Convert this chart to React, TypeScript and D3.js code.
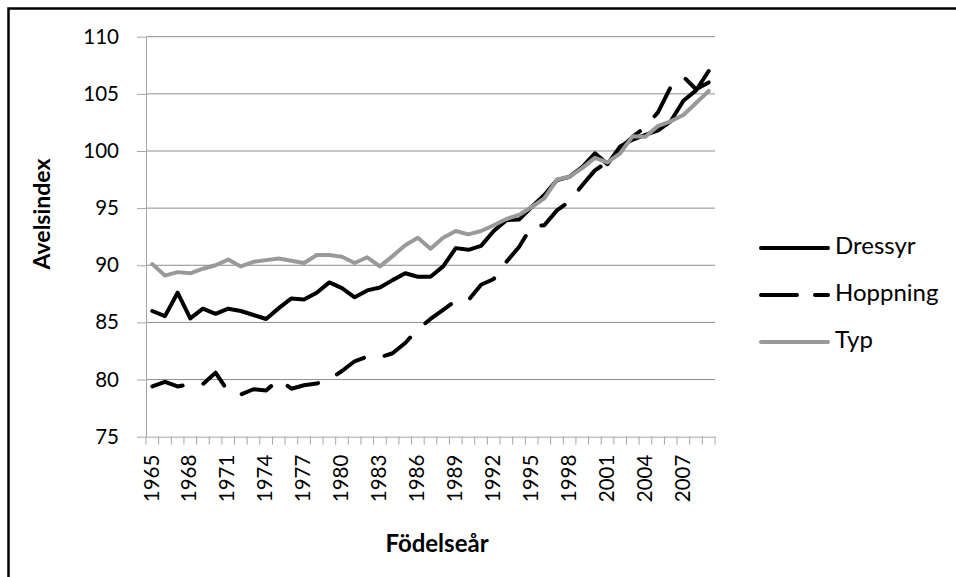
import React, { useEffect, useRef } from "react";
import * as d3 from "d3";

const years = d3.range(1965, 2010).map(String);
const tickYears = ["1965", "1968", "1971", "1974", "1977", "1980", "1983", "1986", "1989", "1992", "1995", "1998", "2001", "2004", "2007"];
const yTicks = [75, 80, 85, 90, 95, 100, 105, 110];

const dressyr = [
  86.0, 85.55, 87.6, 85.35, 86.2, 85.75, 86.2, 86.0, 85.65, 85.3,
  86.25, 87.1, 87.0, 87.6, 88.5, 88.0, 87.2, 87.8, 88.05, 88.7,
  89.3, 89.0, 89.0, 89.9, 91.5, 91.35, 91.7, 93.0, 93.95, 94.0,
  95.1, 96.15, 97.45, 97.75, 98.6, 99.8, 98.85, 100.4, 101.0, 101.4,
  101.8, 102.6, 104.4, 105.3, 107.0,
];
const hoppning = [
  79.4, 79.8, 79.4, 79.6, 79.6, 80.6, 78.95, 78.7, 79.15, 79.05,
  80.0, 79.2, 79.5, 79.65, 80.0, 80.75, 81.6, 82.0, 81.95, 82.3,
  83.2, 84.4, 85.3, 86.1, 86.9, 86.95, 88.3, 88.8, 90.3, 91.6,
  93.4, 93.5, 94.8, 95.6, 97.0, 98.3, 99.05, 100.25, 101.25, 102.1,
  103.4, 105.6, 106.5, 105.4, 106.0,
];
const typ = [
  90.1, 89.1, 89.4, 89.3, 89.7, 90.0, 90.5, 89.9, 90.3, 90.45,
  90.6, 90.4, 90.2, 90.9, 90.9, 90.75, 90.2, 90.7, 89.9, 90.8,
  91.75, 92.4, 91.45, 92.4, 93.0, 92.7, 93.0, 93.5, 94.05, 94.4,
  95.1, 95.85, 97.5, 97.75, 98.5, 99.4, 99.0, 99.8, 101.3, 101.25,
  102.2, 102.6, 103.15, 104.2, 105.25,
];

const series = [
  { name: "Dressyr", values: dressyr, color: "#000", dash: null },
  { name: "Hoppning", values: hoppning, color: "#000", dash: "32 21" },
  { name: "Typ", values: typ, color: "#999", dash: null },
];

const font = "Lato, 'Open Sans', sans-serif";

const App = () => {
  const ref = useRef<SVGSVGElement>(null);

  useEffect(() => {
    const svg = d3.select(ref.current);
    svg.selectAll("*").remove();

    const left = 146, right = 715, top = 36.7, bottom = 436.7;

    const x = d3.scaleBand().domain(years).range([left, right]);
    const y = d3.scaleLinear().domain([75, 110]).range([bottom, top]);
    const cx = (d: string) => (x(d) as number) + x.bandwidth() / 2;

    // outer border
    svg.append("rect")
      .attr("x", 8.5).attr("y", 8.5)
      .attr("width", 1000).attr("height", 1000)
      .attr("fill", "none").attr("stroke", "#000").attr("stroke-width", 2.5);

    // grid
    svg.append("g")
      .selectAll("line")
      .data(yTicks.filter(t => t > 75))
      .join("line")
      .attr("x1", left).attr("x2", right)
      .attr("y1", d => y(d)).attr("y2", d => y(d))
      .attr("stroke", "#8c8c8c").attr("stroke-width", 1);

    // y axis
    const yAxis = svg.append("g")
      .attr("transform", `translate(${left},0)`)
      .call(d3.axisLeft(y).tickValues(yTicks).tickSize(9).tickPadding(18).tickSizeOuter(0));
    yAxis.select(".domain").attr("stroke", "#a6a6a6");
    yAxis.selectAll(".tick line").attr("stroke", "#a6a6a6");
    yAxis.selectAll(".tick text")
      .attr("font-family", font).attr("font-size", 20.5).attr("fill", "#000");

    // x axis
    const xAxis = svg.append("g")
      .attr("transform", `translate(0,${bottom})`)
      .call(d3.axisBottom(x).tickValues([]).tickSizeOuter(0));
    xAxis.select(".domain").attr("stroke", "#a6a6a6");
    xAxis.selectAll("line.tk")
      .data(d3.range(years.length + 1))
      .join("line")
      .attr("class", "tk")
      .attr("x1", i => left + i * x.step()).attr("x2", i => left + i * x.step())
      .attr("y1", 0).attr("y2", 8)
      .attr("stroke", "#a6a6a6");
    xAxis.selectAll("text.lbl")
      .data(tickYears)
      .join("text")
      .attr("class", "lbl")
      .attr("transform", d => `translate(${cx(d) + 1},18) rotate(-90)`)
      .attr("text-anchor", "end")
      .attr("dominant-baseline", "middle")
      .attr("fill", "#000")
      .attr("font-family", font).attr("font-size", 20.5)
      .text(d => d);

    // axis titles
    svg.append("text")
      .attr("transform", "translate(50,214) rotate(-90)")
      .attr("text-anchor", "middle")
      .attr("font-family", font).attr("font-size", 23).attr("font-weight", "bold")
      .text("Avelsindex");
    svg.append("text")
      .attr("x", 437).attr("y", 552)
      .attr("text-anchor", "middle")
      .attr("font-family", font).attr("font-size", 24).attr("font-weight", "bold")
      .text("Födelseår");

    // lines
    const line = d3.line<number>()
      .x((_, i) => cx(years[i]))
      .y(d => y(d));
    series.forEach(s => {
      svg.append("path")
        .datum(s.values)
        .attr("d", line)
        .attr("fill", "none")
        .attr("stroke", s.color)
        .attr("stroke-width", 4)
        .attr("stroke-linejoin", "round")
        .attr("stroke-linecap", "round")
        .attr("stroke-dasharray", s.dash);
    });

    // legend
    const legendY = [248, 295, 342];
    const lg = svg.append("g");
    series.forEach((s, i) => {
      const g = lg.append("g").attr("transform", `translate(0,${legendY[i]})`);
      g.append("line")
        .attr("x1", 761).attr("x2", 828)
        .attr("stroke", s.color).attr("stroke-width", 4)
        .attr("stroke-linecap", "round")
        .attr("stroke-dasharray", s.dash ? "36 18" : null);
      g.append("text")
        .attr("x", 835).attr("dominant-baseline", "middle")
        .attr("font-family", font).attr("font-size", 24)
        .text(s.name);
    });
  }, []);

  return (
    <svg ref={ref} width={956} height={577}
      style={{ position: "absolute", left: 0, top: 0, background: "#fff" }} />
  );
};

export default App;
